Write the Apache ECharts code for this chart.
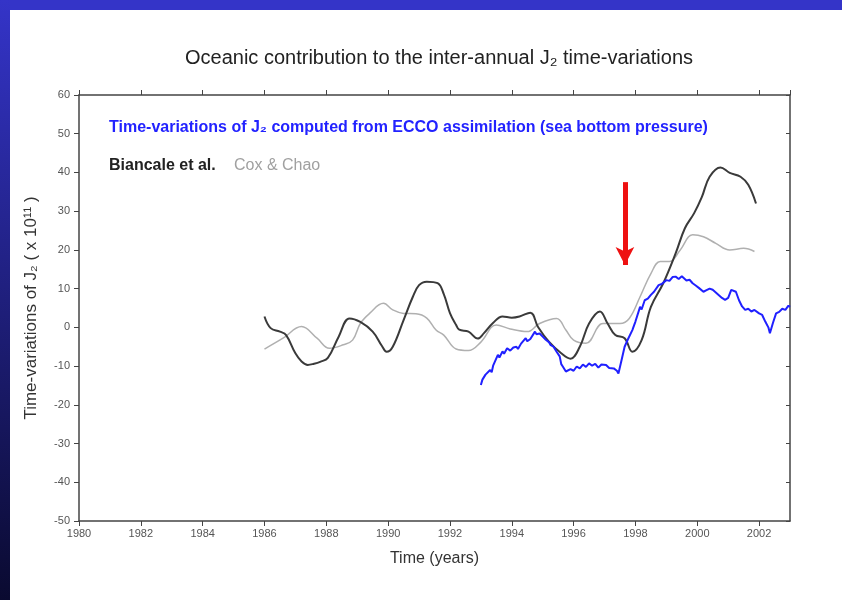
<!DOCTYPE html>
<html><head><meta charset="utf-8">
<script src="https://cdn.jsdelivr.net/npm/echarts@6/dist/echarts.min.js"></script>
<style>html,body{margin:0;padding:0;background:#fff}#c{width:842px;height:600px}</style>
</head><body><div id="c"></div>
<script>
// Biancale et al. (year, value x1e-11)
const biancale = [
[1986.0,2.8],[1986.2,-0.2],[1986.5,-1.1],[1986.7,-2.0],[1987.0,-6.7],[1987.2,-8.8],[1987.4,-9.7],[1987.6,-9.4],[1987.8,-8.9],[1988.05,-7.9],
[1988.4,-2.4],[1988.75,2.3],[1989.1,1.4],[1989.5,-1.1],[1989.8,-4.8],[1989.95,-6.3],[1990.15,-5.0],[1990.5,1.9],[1990.8,7.9],[1991.0,10.9],
[1991.25,11.8],[1991.6,11.4],[1991.8,8.6],[1992.0,3.7],[1992.2,0.6],[1992.3,-0.6],[1992.6,-1.1],[1992.9,-2.9],[1993.1,-1.5],[1993.4,1.2],
[1993.7,2.8],[1994.0,2.5],[1994.25,2.8],[1994.6,3.8],[1994.85,0.1],[1995.2,-3.7],[1995.6,-6.7],[1995.9,-8.1],[1996.2,-5.0],[1996.5,1.0],
[1996.85,4.1],[1997.1,1.0],[1997.35,-2.0],[1997.65,-2.8],[1997.9,-6.3],[1998.2,-3.3],[1998.5,5.3],[1998.9,11.4],[1999.3,19.1],[1999.6,25.6],
[1999.9,29.5],[2000.15,33.7],[2000.4,38.9],[2000.75,41.3],[2001.05,39.9],[2001.4,38.9],[2001.65,36.8],[2001.9,32.0]
];
// Cox & Chao
const coxChao = [
[1986.0,-5.6],[1986.6,-2.8],[1987.2,0.2],[1987.7,-2.8],[1988.1,-5.4],[1988.55,-4.5],[1988.85,-3.3],[1989.1,1.0],[1989.4,3.6],[1989.85,6.2],
[1990.15,4.5],[1990.5,3.6],[1990.9,3.5],[1991.25,2.4],[1991.55,-0.7],[1991.8,-2.0],[1992.2,-5.6],[1992.6,-6.0],[1993.0,-3.8],[1993.5,0.6],
[1993.95,-0.4],[1994.5,-1.1],[1994.9,1.0],[1995.45,2.3],[1995.75,-0.7],[1996.0,-3.3],[1996.4,-4.1],[1996.95,1.0],[1997.5,1.0],[1997.8,2.3],
[1998.15,7.9],[1998.5,13.9],[1998.8,17.0],[1999.1,17.0],[1999.45,20.0],[1999.85,23.9],[2000.2,23.4],[2000.6,21.7],[2001.05,20.0],[2001.5,20.4],
[2001.85,19.6]
];
// ECCO assimilation (sea bottom pressure)
const ecco = [
[1993.0,-14.9],[1993.05,-13.5],[1993.1,-13.8],[1993.15,-12.2],[1993.2,-12.6],[1993.3,-11.0],[1993.35,-11.6],[1993.4,-9.8],[1993.45,-10.3],[1993.55,-7.1],
[1993.6,-7.8],[1993.7,-6.2],[1993.75,-6.8],[1993.85,-5.4],[1993.95,-6.0],[1994.05,-5.2],[1994.15,-5.0],[1994.2,-5.6],[1994.3,-4.2],[1994.35,-4.6],
[1994.45,-2.8],[1994.5,-3.6],[1994.6,-3.0],[1994.65,-3.4],[1994.75,-1.1],[1994.8,-1.8],[1994.9,-1.6],[1995.0,-2.4],[1995.1,-3.2],[1995.2,-3.8],
[1995.25,-4.5],[1995.35,-5.0],[1995.45,-6.3],[1995.55,-7.5],[1995.6,-9.5],[1995.65,-10.1],[1995.75,-11.4],[1995.8,-11.9],[1995.9,-10.8],[1996.0,-11.2],
[1996.1,-10.1],[1996.2,-10.6],[1996.3,-9.6],[1996.4,-10.2],[1996.5,-9.3],[1996.6,-9.9],[1996.7,-9.4],[1996.8,-10.4],[1996.9,-9.6],[1996.95,-10.1],
[1997.05,-9.7],[1997.15,-10.5],[1997.2,-10.0],[1997.3,-10.6],[1997.4,-11.2],[1997.45,-11.9],[1997.55,-8.5],[1997.65,-5.0],[1997.75,-3.2],[1997.9,-0.7],
[1998.0,1.5],[1998.15,5.3],[1998.2,4.6],[1998.3,7.0],[1998.4,7.4],[1998.5,8.4],[1998.6,9.2],[1998.75,10.9],[1998.85,11.2],[1999.0,12.2],
[1999.1,12.0],[1999.2,13.0],[1999.3,13.1],[1999.4,12.5],[1999.5,13.2],[1999.55,12.7],[1999.65,12.1],[1999.75,12.3],[1999.85,11.4],[1999.95,10.8],
[2000.05,10.2],[2000.2,9.2],[2000.3,9.6],[2000.4,10.0],[2000.5,9.7],[2000.6,9.0],[2000.7,8.3],[2000.8,7.6],[2000.9,7.1],[2001.0,7.6],
[2001.1,9.7],[2001.15,10.1],[2001.25,9.2],[2001.35,7.0],[2001.45,5.4],[2001.55,4.5],[2001.65,4.8],[2001.75,4.1],[2001.85,4.5],[2002.0,3.6],
[2002.1,3.2],[2002.2,1.5],[2002.3,0.0],[2002.35,-1.5],[2002.45,1.2],[2002.55,3.6],[2002.65,4.0],[2002.75,4.8],[2002.85,4.5],[2002.95,5.6],[2003.0,5.3]
];
// Red arrow annotation (from, to) in data coords
const arrowFrom = [1997.66, 37.5];
const arrowTo = [1997.66, 16.1];

const xMin = 1980, xMax = 2003, xStep = 2;
const yMin = -50, yMax = 60, yStep = 10;

const font = '"Liberation Sans", Arial, sans-serif';
const chart = echarts.init(document.getElementById('c'), null, {renderer:'canvas'});
const axisLine = {show:true, onZero:false, lineStyle:{color:'#444', width:1.5}};
chart.setOption({
  backgroundColor:'#fff',
  animation:false,
  textStyle:{fontFamily:font},
  title:{text:'Oceanic contribution to the inter-annual J\u2082 time-variations', left:434, top:43,
    textAlign:'center',
    textStyle:{fontSize:20, fontWeight:'normal', color:'#222', fontFamily:font}},
  grid:{left:79, right:52, top:95, bottom:79},
  xAxis:[{type:'value', min:xMin, max:xMax, interval:xStep,
    name:'Time (years)', nameLocation:'middle', nameGap:30,
    nameTextStyle:{fontSize:16, color:'#333'},
    axisLine, axisTick:{show:true, length:5, lineStyle:{color:'#444'}},
    axisLabel:{fontSize:11, color:'#555', margin:7, showMaxLabel:false, formatter:v=>String(v)},
    splitLine:{show:false}},
   {type:'value', position:'top', min:xMin, max:xMax, interval:xStep,
    axisLine, axisTick:{show:true, length:5, lineStyle:{color:'#444'}},
    axisLabel:{show:false}, splitLine:{show:false}}],
  yAxis:[{type:'value', min:yMin, max:yMax, interval:yStep,
    name:'Time-variations of J\u2082 ( x 10\u00b9\u00b9 )', nameLocation:'middle', nameGap:39, nameRotate:90,
    nameTextStyle:{fontSize:17, color:'#333'},
    axisLine, axisTick:{show:true, length:5, lineStyle:{color:'#444'}},
    axisLabel:{fontSize:11, color:'#555', margin:9, formatter:v=>String(v)},
    splitLine:{show:false}},
   {type:'value', position:'right', min:yMin, max:yMax, interval:yStep,
    axisLine, axisTick:{show:true, inside:true, length:4, lineStyle:{color:'#444'}},
    axisLabel:{show:false}, splitLine:{show:false}}],
  series:[
    {name:'Cox & Chao', type:'line', data:coxChao, smooth:0.4, symbol:'none',
     lineStyle:{color:'#b0b0b0', width:1.5}, z:2},
    {name:'Biancale et al.', type:'line', data:biancale, smooth:0.4, symbol:'none',
     lineStyle:{color:'#3a3a3a', width:2}, z:3},
    {name:'ECCO', type:'line', data:ecco, symbol:'none',
     lineStyle:{color:'#2020ff', width:2}, z:4,
     markLine:{silent:true, symbol:['none','arrow'], symbolSize:[14,18],
       lineStyle:{color:'#ee1111', width:5, type:'solid'}, label:{show:false},
       data:[[{coord:arrowFrom},{coord:arrowTo}]]}}
  ],
  graphic:[
    {type:'rect', shape:{x:0,y:0,width:842,height:10}, style:{fill:'#3434c8'}, silent:true},
    {type:'rect', shape:{x:0,y:0,width:10,height:600}, silent:true,
     style:{fill:new echarts.graphic.LinearGradient(0,0,0,1,[{offset:0,color:'#3434c8'},{offset:1,color:'#0a0a30'}])}},
    {type:'text', left:109, top:120, style:{text:'Time-variations of J\u2082 computed from ECCO assimilation (sea bottom pressure)',
      fill:'#2222ff', font:'bold 16px '+font}},
    {type:'text', left:109, top:158, style:{text:'Biancale et al.', fill:'#222', font:'bold 16px '+font}},
    {type:'text', left:234, top:158, style:{text:'Cox & Chao', fill:'#a0a0a0', font:'16px '+font}}
  ]
});
</script></body></html>
